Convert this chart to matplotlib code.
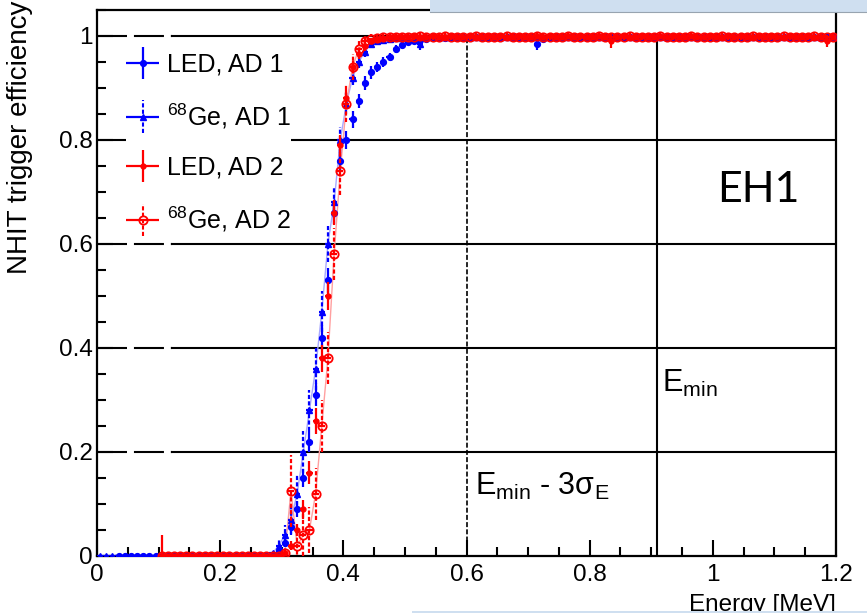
import numpy as np
import matplotlib
matplotlib.use("Agg")
import matplotlib.pyplot as plt
from matplotlib.legend_handler import HandlerErrorbar
from matplotlib.patches import Rectangle
from matplotlib.ticker import MultipleLocator

plt.rcParams['font.family'] = ['Liberation Sans', 'DejaVu Sans']
plt.rcParams['mathtext.fontset'] = 'custom'
plt.rcParams['mathtext.rm'] = 'Liberation Sans'
plt.rcParams['mathtext.it'] = 'Liberation Sans:italic'
plt.rcParams['mathtext.bf'] = 'Liberation Sans:bold'
plt.rcParams['lines.scale_dashes'] = False

# ---- data: NHIT trigger efficiency in 10 keV energy bins ----
BIN_WIDTH = 0.01
N_BINS = 120
energy = BIN_WIDTH / 2 + BIN_WIDTH * np.arange(N_BINS)   # bin centres [MeV]

led_ad1 = [
    None, None, None, 0, 0, 0, 0, 0, 0, 0, 0, 0,
    0, 0, 0, 0, 0, 0, 0, 0, 0, 0, 0, 0,
    0, 0, 0, 0, 0.002, 0.01, 0.025, 0.055, 0.09, 0.15, 0.22, 0.31,
    0.42, 0.53, 0.66, 0.76, 0.80, 0.84, 0.875, 0.91, 0.93, 0.94, 0.95, 0.96,
    0.975, 0.983, 0.988, 0.991, 0.993, 0.995, 0.996, 0.997, 0.997, 0.998, 0.998, 0.998,
    0.999, 0.998, 0.999, 0.999, 0.998, 0.999, 0.999, 0.999, 0.998, 0.999, 0.999, 0.985,
    0.994, 0.999, 0.999, 0.998, 0.999, 0.999, 0.999, 0.999, 0.998, 0.999, 0.999, 0.999,
    0.999, 0.998, 0.999, 0.999, 0.999, 0.999, 0.998, 0.999, 0.999, 0.999, 0.999, 0.998,
    0.999, 0.999, 0.999, 0.998, 0.999, 0.999, 0.999, 0.999, 0.998, 0.999, 0.999, 0.999,
    0.999, 0.998, 0.999, 0.999, 0.999, 0.999, 0.998, 0.999, 0.999, 0.999, 0.999, 0.998,
]
led_ad1_err = [
    None, None, None, .002, .002, .002, .002, .002, .002, .002, .002, .002,
    .002, .002, .002, .002, .002, .002, .002, .002, .002, .002, .002, .002,
    .002, .002, .002, .002, .003, .005, .008, .012, .015, .018, .020, .022,
    .024, .024, .022, .020, .018, .016, .014, .013, .012, .010, .009, .008,
    .007, .006, .005, .005, .004, .004, .004, .003, .003, .003, .003, .003,
    .003, .003, .003, .003, .003, .003, .003, .003, .003, .003, .003, .012,
    .006, .003, .003, .003, .003, .003, .003, .003, .003, .003, .003, .003,
    .003, .003, .003, .003, .003, .003, .003, .003, .003, .003, .003, .003,
    .003, .003, .003, .003, .003, .003, .003, .003, .003, .003, .003, .003,
    .003, .003, .003, .003, .003, .003, .003, .003, .003, .003, .003, .003,
]

ge_ad1 = [
    0, 0, 0, 0, 0, 0, 0, 0, 0, 0, 0, 0,
    0, 0, 0, 0, 0, 0, 0, 0, 0, 0, 0, 0,
    0, 0, 0, 0.002, 0.005, 0.02, 0.04, 0.07, 0.12, 0.20, 0.28, 0.36,
    0.47, 0.60, 0.68, 0.80, 0.87, 0.92, 0.95, 0.97, 0.985, 0.99, 0.993, 0.995,
    0.997, 0.997, 0.998, 0.998, 0.985, 0.998, 0.999, 0.998, 0.999, 0.999, 0.998, 0.999,
    0.998, 0.999, 0.999, 0.998, 0.999, 0.999, 0.999, 0.998, 0.999, 0.999, 0.998, 0.999,
    0.999, 0.998, 0.999, 0.999, 0.999, 0.998, 0.999, 0.999, 0.998, 0.999, 0.999, 0.999,
    0.998, 0.999, 0.999, 0.999, 0.998, 0.999, 0.999, 0.999, 0.999, 0.998, 0.999, 0.999,
    0.999, 0.999, 0.998, 0.999, 0.999, 0.999, 0.998, 0.999, 0.999, 0.999, 0.998, 0.999,
    0.999, 0.999, 0.999, 0.998, 0.999, 0.999, 0.999, 0.998, 0.999, 0.999, 0.999, 0.998,
]
ge_ad1_err = [
    .002, .002, .002, .002, .002, .002, .002, .002, .002, .002, .002, .002,
    .002, .002, .002, .002, .002, .002, .002, .002, .002, .002, .002, .002,
    .002, .002, .002, .003, .005, .010, .020, .030, .035, .040, .040, .040,
    .040, .035, .030, .025, .020, .015, .012, .010, .008, .006, .005, .005,
    .004, .004, .004, .004, .012, .004, .004, .004, .004, .004, .004, .004,
    .004, .004, .004, .004, .004, .004, .004, .004, .004, .004, .004, .004,
    .004, .004, .004, .004, .004, .004, .004, .004, .004, .004, .004, .004,
    .004, .004, .004, .004, .004, .004, .004, .004, .004, .004, .004, .004,
    .004, .004, .004, .004, .004, .004, .004, .004, .004, .004, .004, .004,
    .004, .004, .004, .004, .004, .004, .004, .004, .004, .004, .004, .004,
]

led_ad2 = [
    None, None, None, None, None, None, None, None, None, None, 0, 0,
    0, 0, 0, 0, 0, 0, 0, 0, 0, 0, 0, 0,
    0, 0, 0, 0, 0, 0, 0.005, 0.02, 0.05, 0.09, 0.16, 0.26,
    0.38, 0.50, 0.66, 0.79, 0.88, 0.94, 0.965, 0.98, 0.99, 0.995, 0.997, 0.998,
    0.998, 0.999, 0.999, 1.0, 0.999, 0.999, 1.0, 0.999, 0.999, 1.0, 0.999, 0.999,
    1.0, 0.999, 0.999, 1.0, 0.999, 1.0, 0.999, 0.999, 1.0, 0.999, 0.999, 1.0,
    0.999, 1.0, 0.999, 0.999, 1.0, 0.999, 1.0, 0.999, 0.999, 1.0, 0.999, 0.990,
    0.999, 1.0, 0.999, 0.999, 1.0, 0.999, 0.999, 1.0, 0.999, 1.0, 0.999, 0.999,
    1.0, 0.999, 0.999, 1.0, 0.999, 0.999, 1.0, 0.999, 1.0, 0.999, 0.999, 1.0,
    0.999, 1.0, 0.999, 0.999, 1.0, 0.999, 0.999, 1.0, 0.999, 0.999, 0.990, 0.999,
]
led_ad2_err = [
    None, None, None, None, None, None, None, None, None, None, .040, .004,
    .004, .004, .004, .004, .004, .004, .004, .004, .004, .004, .004, .004,
    .004, .004, .004, .004, .004, .004, .005, .008, .012, .018, .022, .025,
    .026, .026, .024, .020, .016, .012, .010, .008, .006, .006, .006, .006,
    .006, .006, .006, .006, .006, .006, .006, .006, .006, .006, .006, .006,
    .006, .006, .006, .006, .006, .006, .006, .006, .006, .006, .006, .006,
    .006, .006, .006, .006, .006, .006, .006, .006, .006, .006, .006, .014,
    .006, .006, .006, .006, .006, .006, .006, .006, .006, .006, .006, .006,
    .006, .006, .006, .006, .006, .006, .006, .006, .006, .006, .006, .006,
    .006, .006, .006, .006, .006, .006, .006, .006, .006, .006, .012, .006,
]

ge_ad2 = [
    None, None, None, None, None, None, None, None, None, None, 0, 0,
    0, 0, 0, 0, 0, 0, 0, 0, 0, 0, 0, 0,
    0, 0, 0, 0, 0, 0, 0.005, 0.125, 0.02, 0.04, 0.05, 0.12,
    0.25, 0.38, 0.58, 0.74, 0.87, 0.94, 0.975, 0.99, 0.995, 0.997, 0.998, 0.998,
    0.999, 0.998, 0.999, 0.999, 1.0, 0.999, 0.998, 0.999, 1.0, 0.999, 0.999, 0.998,
    0.999, 1.0, 0.999, 0.999, 0.998, 0.999, 1.0, 0.999, 0.999, 0.998, 0.999, 1.0,
    0.999, 0.999, 0.998, 0.999, 1.0, 0.999, 0.999, 0.998, 0.999, 1.0, 0.999, 0.999,
    0.998, 0.999, 1.0, 0.999, 0.999, 0.998, 0.999, 1.0, 0.999, 0.999, 0.998, 0.999,
    1.0, 0.999, 0.999, 0.998, 0.999, 1.0, 0.999, 0.999, 0.998, 0.999, 1.0, 0.999,
    0.999, 0.998, 0.999, 1.0, 0.999, 0.999, 0.998, 0.999, 1.0, 0.999, 0.999, 0.998,
]
ge_ad2_err = [
    None, None, None, None, None, None, None, None, None, None, .003, .003,
    .003, .003, .003, .003, .003, .003, .003, .003, .003, .003, .003, .003,
    .003, .003, .003, .003, .003, .003, .010, .070, .030, .040, .045, .050,
    .050, .050, .050, .045, .035, .025, .018, .012, .008, .006, .006, .006,
    .006, .006, .006, .006, .006, .006, .006, .006, .006, .006, .006, .006,
    .006, .006, .006, .006, .006, .006, .006, .006, .006, .006, .006, .006,
    .006, .006, .006, .006, .006, .006, .006, .006, .006, .006, .006, .006,
    .006, .006, .006, .006, .006, .006, .006, .006, .006, .006, .006, .006,
    .006, .006, .006, .006, .006, .006, .006, .006, .006, .006, .006, .006,
    .006, .006, .006, .006, .006, .006, .006, .006, .006, .006, .006, .006,
]

series_labels = ["LED, AD 1", r"$^{68}$Ge, AD 1", "LED, AD 2", r"$^{68}$Ge, AD 2"]

E_MIN = 0.91          # analysis energy threshold [MeV]
E_MIN_3SIGMA = 0.60   # threshold minus three sigma of the energy resolution [MeV]
grid_levels = [0.2, 0.4, 0.6, 0.8, 1.0]
x_ticks = [0, 0.2, 0.4, 0.6, 0.8, 1.0, 1.2]
x_tick_labels = ["0", "0.2", "0.4", "0.6", "0.8", "1", "1.2"]
y_ticks = [0, 0.2, 0.4, 0.6, 0.8, 1.0]
y_tick_labels = ["0", "0.2", "0.4", "0.6", "0.8", "1"]

# ---- figure ----
W, H = 867, 613
fig = plt.figure(figsize=(W / 100, H / 100), dpi=100)
fig.patch.set_facecolor("white")
ax = fig.add_axes([97 / W, 57 / H, 739 / W, 546 / H])
ax.set_xlim(0, 1.2)
ax.set_ylim(0, 1.05)

# horizontal reference lines: short dashed run near the axis, solid afterwards
for lvl in grid_levels:
    ax.plot([0, 0.122], [lvl, lvl], color="black", lw=1.5,
            dashes=(21.6, 5.0), zorder=1, solid_capstyle="butt")
    ax.plot([0.122, 1.2], [lvl, lvl], color="black", lw=1.5, zorder=1)

# energy threshold markers
ax.plot([E_MIN_3SIGMA, E_MIN_3SIGMA], [0, 1.0], color="black", lw=1.2,
        dashes=(3.6, 1.6), zorder=1)
ax.plot([E_MIN, E_MIN], [0, 1.0], color="black", lw=1.5, zorder=1)

def arr(v):
    return np.array(v, dtype=float)

half_bin = BIN_WIDTH / 2
dash_err = (0, (3.0, 1.6))

# connecting curves for the 68Ge samples
ax.plot(energy, arr(ge_ad1), color="#a8a8ff", lw=1.0, zorder=2)
ax.plot(energy, arr(ge_ad2), color="#ffa0a0", lw=1.0, zorder=2)

c1 = ax.errorbar(energy, arr(led_ad1), yerr=arr(led_ad1_err), xerr=half_bin,
                 fmt="o", ms=4.2, color="#0000ff", ecolor="#0000ff",
                 elinewidth=1.6, capsize=0, zorder=3)
c2 = ax.errorbar(energy, arr(ge_ad1), yerr=arr(ge_ad1_err), xerr=half_bin,
                 fmt="^", ms=4.5, color="#0000ff", ecolor="#0000ff",
                 elinewidth=1.6, capsize=0, zorder=3)
c2.lines[2][-1].set_linestyle(dash_err)
c3 = ax.errorbar(energy, arr(led_ad2), yerr=arr(led_ad2_err), xerr=half_bin,
                 fmt="o", ms=3.5, color="#ff0000", ecolor="#ff0000",
                 elinewidth=1.6, capsize=0, zorder=4)
c4 = ax.errorbar(energy, arr(ge_ad2), yerr=arr(ge_ad2_err), xerr=half_bin,
                 fmt="o", ms=6, mfc="none", mec="#ff0000", mew=1.3,
                 color="#ff0000", ecolor="#ff0000",
                 elinewidth=1.6, capsize=0, zorder=4)
c4.lines[2][-1].set_linestyle(dash_err)

# axes styling
for sp in ax.spines.values():
    sp.set_linewidth(1.6)
ax.set_xticks(x_ticks)
ax.set_xticklabels(x_tick_labels)
ax.set_yticks(y_ticks)
ax.set_yticklabels(y_tick_labels)
ax.xaxis.set_minor_locator(MultipleLocator(0.05))
ax.yaxis.set_minor_locator(MultipleLocator(0.05))
ax.tick_params(which="both", direction="in", top=False, right=False,
               width=1.5, labelsize=17.5)
ax.tick_params(which="major", length=11.5)
ax.tick_params(which="minor", length=6.5)
ax.tick_params(axis="x", which="major", pad=6)
ax.tick_params(axis="y", which="major", pad=3)


class SplitErrorbarHandler(HandlerErrorbar):
    """Errorbar legend entry whose vertical bar can be dashed."""

    def __init__(self, dashed_y=False, **kw):
        super().__init__(**kw)
        self.dashed_y = dashed_y

    def create_artists(self, legend, orig_handle, xdescent, ydescent,
                       width, height, fontsize, trans):
        arts = super().create_artists(legend, orig_handle, xdescent, ydescent,
                                      width, height, fontsize, trans)
        if self.dashed_y:
            arts[1].set_linestyle(dash_err)
        return arts


hmap = {
    c1: SplitErrorbarHandler(False, xerr_size=0.65, yerr_size=0.65),
    c2: SplitErrorbarHandler(True, xerr_size=0.65, yerr_size=0.65),
    c3: SplitErrorbarHandler(False, xerr_size=0.65, yerr_size=0.65),
    c4: SplitErrorbarHandler(True, xerr_size=0.65, yerr_size=0.65),
}
leg = ax.legend([c1, c2, c3, c4], series_labels, loc="upper left",
                bbox_to_anchor=(0.022, 0.945), fontsize=18, numpoints=1,
                frameon=True, facecolor="white", edgecolor="none",
                framealpha=1, fancybox=False, borderpad=0.0,
                handlelength=1.35, handletextpad=0.3, labelspacing=1.0,
                handler_map=hmap)
leg.set_zorder(5)

# threshold annotations
ax.text(0.917, 0.315, r"E$_{\mathrm{min}}$", fontsize=22, ha="left",
        va="baseline", zorder=6)
ax.text(0.614, 0.117, r"E$_{\mathrm{min}}$ - 3σ$_{\mathrm{E}}$", fontsize=22,
        ha="left", va="baseline", zorder=6)

# axis titles
fig.text(20 / W, 1 - 1 / H, "NHIT trigger efficiency", rotation=90,
         ha="center", va="top", fontsize=20)
fig.text(836 / W, 2 / H, "Energy [MeV]", ha="right", va="baseline",
         fontsize=17.5)

# hall label
fig.text(758 / W, 1 - 190 / H, "EH1", family=["Lato", "DejaVu Sans"],
         fontsize=31, ha="center", va="center")

# slide bands
slide_blue = "#cfdff0"
fig.add_artist(Rectangle((430 / W, 1 - 12 / H), 1 - 430 / W, 12 / H,
                         transform=fig.transFigure, facecolor=slide_blue,
                         edgecolor="none", zorder=10))
fig.add_artist(plt.Line2D([430 / W, 1], [1 - 12 / H, 1 - 12 / H],
                          transform=fig.transFigure, color="#98a4b0",
                          lw=0.8, zorder=11))
fig.add_artist(Rectangle((412 / W, 0), 1 - 412 / W, 2 / H,
                         transform=fig.transFigure, facecolor=slide_blue,
                         edgecolor="none", zorder=10))

fig.savefig("out.png", dpi=100)
